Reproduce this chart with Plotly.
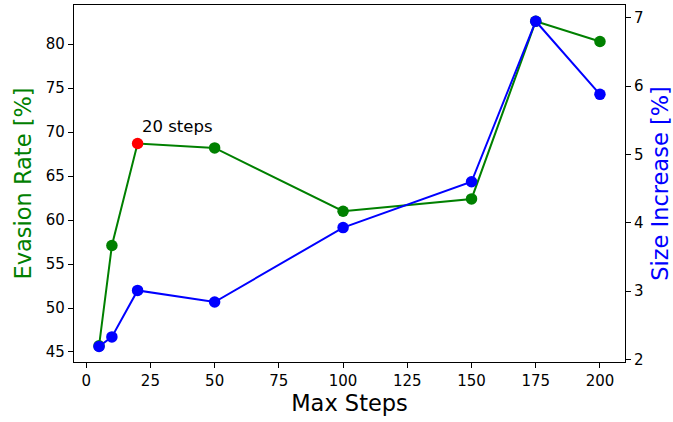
import plotly.graph_objects as go

steps = [5, 10, 20, 50, 100, 150, 175, 200]
evasion = [45.7, 57.1, 68.7, 68.2, 61.0, 62.4, 82.6, 80.3]
size_inc = [2.19, 2.33, 3.01, 2.84, 3.93, 4.60, 6.95, 5.88]
highlight_step = 20
x_ticks = [0, 25, 50, 75, 100, 125, 150, 175, 200]
left_ticks = [45, 50, 55, 60, 65, 70, 75, 80]
right_ticks = [2, 3, 4, 5, 6, 7]

font = "DejaVu Sans"
green_colors = ["red" if s == highlight_step else "green" for s in steps]

fig = go.Figure()
fig.add_trace(go.Scatter(
    x=steps, y=evasion, mode="lines+markers",
    line=dict(color="green", width=2),
    marker=dict(color=green_colors, size=11.5),
    yaxis="y", showlegend=False, cliponaxis=False,
))
fig.add_trace(go.Scatter(
    x=steps, y=size_inc, mode="lines+markers",
    line=dict(color="blue", width=2),
    marker=dict(color="blue", size=11.5),
    yaxis="y2", showlegend=False, cliponaxis=False,
))

hi = steps.index(highlight_step)
fig.add_annotation(
    x=steps[hi], y=evasion[hi], xref="x", yref="y",
    text="20 steps", showarrow=False,
    xanchor="left", yanchor="bottom", xshift=2, yshift=6,
    font=dict(family=font, size=16.5, color="black"),
)

axis_common = dict(
    showgrid=False, zeroline=False, showline=True, linecolor="black",
    linewidth=1.2, ticks="outside", ticklen=5, tickwidth=1.2, tickcolor="black",
    tickfont=dict(family=font, size=15, color="black"), automargin=False,
)

fig.update_layout(
    width=673, height=422,
    margin=dict(l=74, r=48, t=5, b=60),
    paper_bgcolor="white", plot_bgcolor="white",
    hovermode=False,
    xaxis=dict(
        range=[-4.75, 209.75], tickvals=x_ticks, mirror=True,
        title=dict(text="Max Steps", font=dict(family=font, size=22.5, color="black"), standoff=6),
        **axis_common,
    ),
    yaxis=dict(
        range=[43.86, 84.45], tickvals=left_ticks,
        title=dict(text="Evasion Rate [%]", font=dict(family=font, size=22.5, color="green"), standoff=7),
        **axis_common,
    ),
    yaxis2=dict(
        range=[1.9625, 7.1875], tickvals=right_ticks, overlaying="y", side="right",
        title=dict(text="Size Increase [%]", font=dict(family=font, size=22.5, color="blue"), standoff=13),
        **axis_common,
    ),
)

fig.write_html(
    "out.html",
    config={"displayModeBar": False},
    post_script="document.body.style.margin='0';document.body.style.overflow='hidden';",
)
